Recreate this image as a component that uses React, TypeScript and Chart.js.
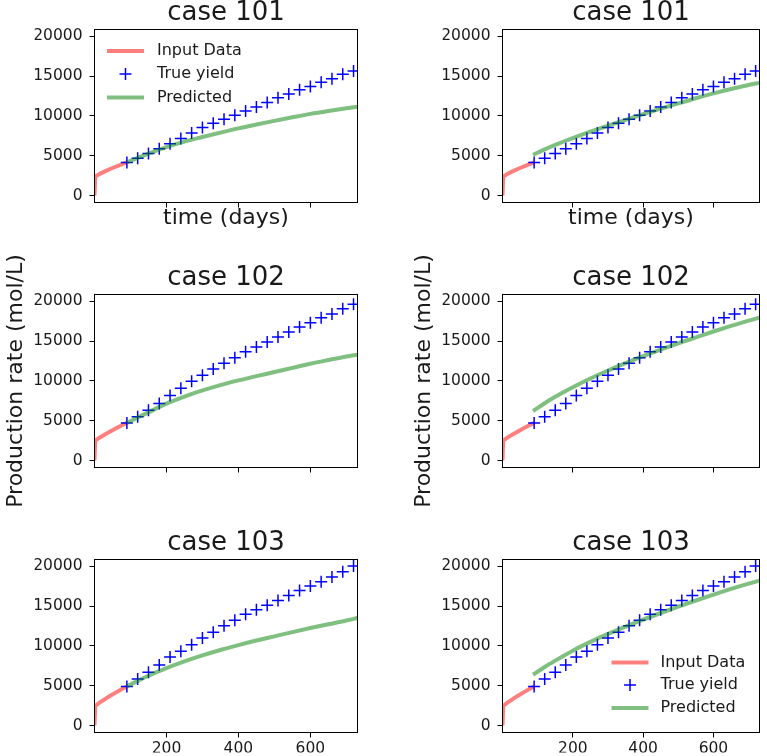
import React, { useEffect, useRef } from 'react';
import { Chart, registerables } from 'chart.js';

Chart.register(...registerables);

// ---------- data ----------
const caseTitles = ['case 101', 'case 102', 'case 103'];
const legendLabels = ['Input Data', 'True yield', 'Predicted'];
const xLabel = 'time (days)';
const yLabel = 'Production rate (mol/L)';
const yTicks = [0, 5000, 10000, 15000, 20000];
const xTicks = [200, 400, 600];

const inputDays = [0, 2, 15, 30, 45, 60, 75, 90];
const input101 = [0, 2380, 2720, 3060, 3360, 3640, 3900, 4150];
const input102 = [0, 2510, 2900, 3300, 3680, 4050, 4400, 4720];
const input103 = [0, 2470, 2900, 3350, 3770, 4160, 4540, 4900];

const trueDays = [90, 120, 150, 180, 210, 240, 270, 300, 330, 360, 390, 420, 450, 480, 510, 540, 570, 600, 630, 660, 690, 720];
const true101 = [4150, 4680, 5260, 5870, 6500, 7160, 7850, 8540, 9080, 9590, 10090, 10620, 11110, 11670, 12290, 12750, 13270, 13700, 14210, 14650, 15240, 15640];
const true102 = [4700, 5500, 6300, 7150, 8150, 9080, 9950, 10700, 11480, 12220, 12910, 13650, 14260, 14880, 15510, 16140, 16760, 17300, 17930, 18400, 19050, 19610];
const true103 = [4900, 5850, 6690, 7590, 8600, 9310, 10150, 10990, 11700, 12540, 13210, 13960, 14550, 15110, 15700, 16330, 16960, 17530, 18050, 18660, 19310, 20040];

const predDaysLeft = [90, 120, 150, 200, 250, 300, 350, 400, 450, 500, 550, 600, 650, 700, 731];
const predLeft101 = [4150, 4720, 5270, 6080, 6760, 7340, 7900, 8430, 8910, 9370, 9820, 10250, 10620, 10960, 11150];
const predLeft102 = [4700, 5400, 6050, 7150, 8030, 8800, 9470, 10060, 10600, 11110, 11640, 12160, 12620, 13060, 13290];
const predLeft103 = [4900, 5600, 6250, 7210, 8050, 8800, 9480, 10100, 10670, 11200, 11730, 12240, 12720, 13180, 13500];

const predDaysRight = [87, 120, 150, 200, 250, 300, 350, 400, 450, 500, 550, 600, 650, 700, 731];
const predRight101 = [5100, 5790, 6360, 7210, 8010, 8770, 9500, 10210, 10900, 11570, 12220, 12820, 13370, 13870, 14150];
const predRight102 = [6200, 7190, 8000, 9200, 10300, 11300, 12220, 13100, 13920, 14720, 15470, 16200, 16900, 17570, 17950];
const predRight103 = [6370, 7350, 8150, 9400, 10500, 11500, 12420, 13300, 14130, 14930, 15700, 16440, 17150, 17820, 18200];

const inputRows = [input101, input102, input103];
const trueRows = [true101, true102, true103];
const predLeftRows = [predLeft101, predLeft102, predLeft103];
const predRightRows = [predRight101, predRight102, predRight103];

// ---------- layout ----------
const W = 767;
const H = 756;
const colLeft = [94.5, 502.5];
const colRight = [357.5, 765.5];
const rowTop = [29.5, 294.5, 559.5];
const rowBottom = [202.5, 467.5, 732.5];
const Y_AXIS_W = 60;
const X_AXIS_H = 20;

const RED = 'rgba(255,0,0,0.5)';
const GREEN = 'rgba(0,128,0,0.5)';
const BLUE = '#0000ff';
const TEXT = '#1a1a1a';
const FONT = '"DejaVu Sans", sans-serif';

const pts = (xs: number[], ys: number[]) => xs.map((x, i) => ({ x, y: ys[i] }));

function drawLegend(ctx: CanvasRenderingContext2D, x0: number, x1: number, tx: number, ys: number[]) {
  ctx.save();
  ctx.lineCap = 'butt';
  ctx.lineWidth = 4;
  ctx.strokeStyle = RED;
  ctx.beginPath();
  ctx.moveTo(x0, ys[0]);
  ctx.lineTo(x1, ys[0]);
  ctx.stroke();
  ctx.strokeStyle = GREEN;
  ctx.beginPath();
  ctx.moveTo(x0, ys[2]);
  ctx.lineTo(x1, ys[2]);
  ctx.stroke();
  const cx = (x0 + x1) / 2;
  ctx.strokeStyle = BLUE;
  ctx.lineWidth = 1.5;
  ctx.beginPath();
  ctx.moveTo(cx - 6, ys[1]);
  ctx.lineTo(cx + 6, ys[1]);
  ctx.moveTo(cx, ys[1] - 6);
  ctx.lineTo(cx, ys[1] + 6);
  ctx.stroke();
  ctx.fillStyle = TEXT;
  ctx.font = `16px ${FONT}`;
  ctx.textBaseline = 'middle';
  ctx.textAlign = 'left';
  legendLabels.forEach((l, i) => ctx.fillText(l, tx, ys[i]));
  ctx.restore();
}

function Panel({ row, col }: { row: number; col: number }) {
  const ref = useRef<HTMLCanvasElement | null>(null);
  useEffect(() => {
    const canvas = ref.current;
    if (!canvas) return;
    const left = colLeft[col];
    const right = colRight[col];
    const top = rowTop[row];
    const bottom = rowBottom[row];
    const showXLabels = row === 2;
    const predDays = col === 0 ? predDaysLeft : predDaysRight;
    const predVals = col === 0 ? predLeftRows[row] : predRightRows[row];

    const textPlugin = {
      id: 'panelText' + row + col,
      afterDraw(chart: any) {
        const ctx: CanvasRenderingContext2D = chart.ctx;
        const a = chart.chartArea;
        ctx.save();
        ctx.strokeStyle = '#000';
        ctx.lineWidth = 1;
        ctx.strokeRect(a.left, a.top, a.right - a.left, a.bottom - a.top);
        ctx.fillStyle = TEXT;
        ctx.font = `26px ${FONT}`;
        ctx.textAlign = 'center';
        ctx.textBaseline = 'alphabetic';
        ctx.fillText(caseTitles[row], (a.left + a.right) / 2, a.top - 9.5);
        if (row === 0) {
          ctx.font = `22px ${FONT}`;
          ctx.fillText(xLabel, (a.left + a.right) / 2, a.bottom + 21.5);
        }
        if (row === 1) {
          ctx.save();
          ctx.translate(a.left - 73, (a.top + a.bottom) / 2);
          ctx.rotate(-Math.PI / 2);
          ctx.font = `22px ${FONT}`;
          ctx.textAlign = 'center';
          ctx.textBaseline = 'alphabetic';
          ctx.fillText(yLabel, 0, 0);
          ctx.restore();
        }
        if (row === 0 && col === 0) {
          drawLegend(ctx, a.left + 12.5, a.left + 49.5, a.left + 62.5, [a.top + 21.5, a.top + 44.5, a.top + 68]);
        }
        if (row === 2 && col === 1) {
          drawLegend(ctx, a.left + 109, a.left + 146, a.left + 158, [a.top + 103, a.top + 125.5, a.top + 148.5]);
        }
        ctx.restore();
      },
    };

    const chart = new Chart(canvas, {
      type: 'line',
      data: {
        datasets: [
          {
            label: legendLabels[0],
            data: pts(inputDays, inputRows[row]),
            borderColor: RED,
            borderWidth: 4,
            pointRadius: 0,
            fill: false,
            tension: 0,
            order: 3,
          },
          {
            label: legendLabels[1],
            data: pts(trueDays, trueRows[row]),
            showLine: false,
            pointStyle: 'cross',
            pointRadius: 6,
            pointBorderWidth: 1.5,
            borderColor: BLUE,
            backgroundColor: BLUE,
            pointBorderColor: BLUE,
            order: 2,
          },
          {
            label: legendLabels[2],
            data: pts(predDays, predVals),
            borderColor: GREEN,
            borderWidth: 4,
            pointRadius: 0,
            fill: false,
            cubicInterpolationMode: 'monotone',
            order: 1,
          },
        ],
      },
      options: {
        responsive: false,
        animation: false,
        devicePixelRatio: 1,
        events: [],
        layout: {
          padding: {
            left: left - Y_AXIS_W,
            right: W - right,
            top: top,
            bottom: H - bottom - X_AXIS_H,
          },
        },
        plugins: {
          legend: { display: false },
          tooltip: { enabled: false },
          title: { display: false },
        },
        scales: {
          x: {
            type: 'linear',
            min: 0,
            max: 731,
            afterBuildTicks: (s: any) => {
              s.ticks = xTicks.map((v) => ({ value: v }));
            },
            afterFit: (s: any) => {
              s.height = X_AXIS_H;
            },
            ticks: {
              display: showXLabels,
              autoSkip: false,
              maxRotation: 0,
              padding: 2,
              color: TEXT,
              font: { family: FONT, size: 15.5 },
              callback: (v: any) => String(v),
            },
            grid: {
              display: true,
              drawOnChartArea: false,
              drawTicks: true,
              tickLength: 5,
              color: '#000',
              tickColor: '#000',
              tickWidth: 1,
            },
            border: { display: false },
          },
          y: {
            type: 'linear',
            min: -880,
            max: 20850,
            afterBuildTicks: (s: any) => {
              s.ticks = yTicks.map((v) => ({ value: v }));
            },
            afterFit: (s: any) => {
              s.width = Y_AXIS_W;
            },
            ticks: {
              autoSkip: false,
              padding: 7,
              color: TEXT,
              font: { family: FONT, size: 15.5 },
              callback: (v: any) => String(v),
            },
            grid: {
              display: true,
              drawOnChartArea: false,
              drawTicks: true,
              tickLength: 5,
              color: '#000',
              tickColor: '#000',
              tickWidth: 1,
            },
            border: { display: false },
          },
        },
      },
      plugins: [textPlugin],
    } as any);
    return () => chart.destroy();
  }, [row, col]);
  return (
    <canvas
      ref={ref}
      width={W}
      height={H}
      style={{ position: 'absolute', left: 0, top: 0, width: W, height: H }}
    />
  );
}

export default function App() {
  const panels: { row: number; col: number }[] = [];
  for (let r = 0; r < 3; r++) for (let c = 0; c < 2; c++) panels.push({ row: r, col: c });
  return (
    <div style={{ position: 'absolute', left: 0, top: 0, width: W, height: H, background: '#fff', overflow: 'hidden' }}>
      {panels.map((p) => (
        <Panel key={`${p.row}-${p.col}`} row={p.row} col={p.col} />
      ))}
    </div>
  );
}
